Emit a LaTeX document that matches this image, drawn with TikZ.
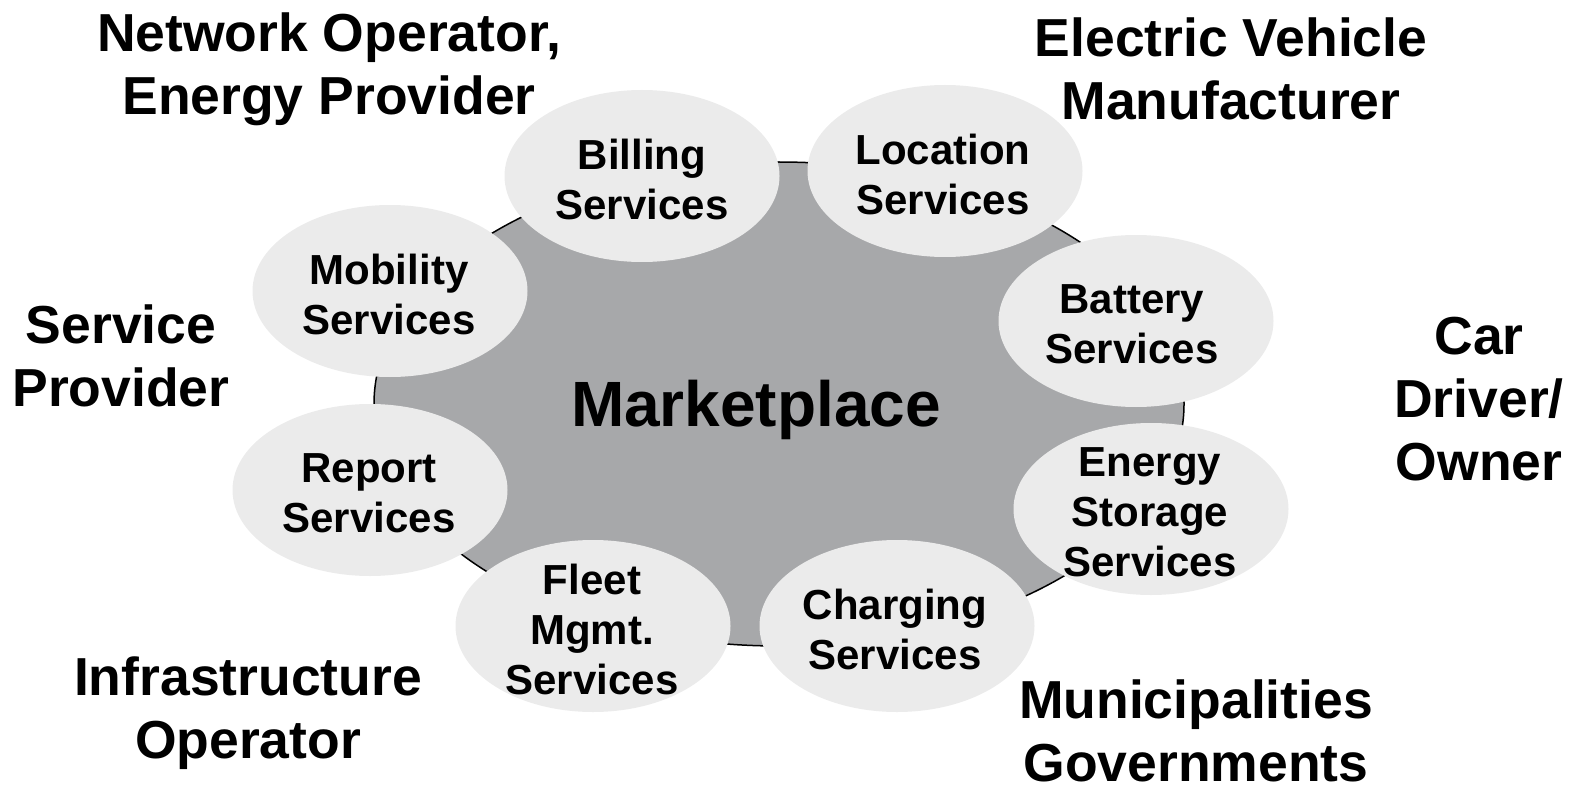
\documentclass[tikz,border=0pt]{standalone}
\usepackage{fontspec}
\setmainfont{Liberation Sans}
\usetikzlibrary{shapes.geometric}
\definecolor{bigfill}{HTML}{A7A8AA}
\definecolor{smallfill}{HTML}{EBEBEB}
\tikzset{
  market/.style={ellipse, draw=black, line width=1.5pt, fill=bigfill, minimum width=810pt, minimum height=484pt, inner sep=0pt},
  svc/.style={ellipse, fill=smallfill, minimum width=275pt, minimum height=172pt, inner sep=0pt},
  svctext/.style={align=center, inner sep=0pt, font=\bfseries\fontsize{42}{50}\selectfont},
  actor/.style={align=center, inner sep=0pt, font=\bfseries\fontsize{53.5}{63}\selectfont},
}
\begin{document}
\begin{tikzpicture}[x=1pt,y=-1pt]
\useasboundingbox (0,0) rectangle (1576,794);
\node[market] (mp) at (779,404) {};
\node[font=\bfseries\fontsize{64}{70}\selectfont, inner sep=0pt] (mptext) at (756,410) {Marketplace};
\node[svc] (bill) at (642,176) {};
\node[svc] (loc) at (945,171) {};
\node[svc] (mob) at (390,291) {};
\node[svc] (bat) at (1136,321) {};
\node[svc] (rep) at (370,490) {};
\node[svc] (ens) at (1151,509) {};
\node[svc] (fleet) at (593,626) {};
\node[svc] (chg) at (897,626) {};
\node[svctext] (billt) at ([shift={(0,3)}]bill.center) {Billing\\Services};
\node[svctext] (loct) at ([shift={(-2,3)}]loc.center) {Location\\Services};
\node[svctext] (mobt) at ([shift={(-1,3)}]mob.center) {Mobility\\Services};
\node[svctext] (batt) at ([shift={(-4,3)}]bat.center) {Battery\\Services};
\node[svctext] (rept) at ([shift={(-1,3)}]rep.center) {Report\\Services};
\node[svctext] (enst) at ([shift={(-1,3)}]ens.center) {Energy\\Storage\\Services};
\node[svctext] (fleett) at ([shift={(-1,3)}]fleet.center) {Fleet\\Mgmt.\\Services};
\node[svctext] (chgt) at ([shift={(-2,3)}]chg.center) {Charging\\Services};
\node[actor] (netop) at (329,69) {Network Operator,\\Energy Provider};
\node[actor] (evm) at (1231,69) {Electric Vehicle\\Manufacturer};
\node[actor] (sp) at (121,356) {Service\\Provider};
\node[actor] (car) at (1479,399) {Car\\Driver/\\Owner};
\node[actor] (infra) at (248,713) {Infrastructure\\Operator};
\node[actor] (muni) at (1196,731) {Municipalities\\Governments};
\end{tikzpicture}
\end{document}
